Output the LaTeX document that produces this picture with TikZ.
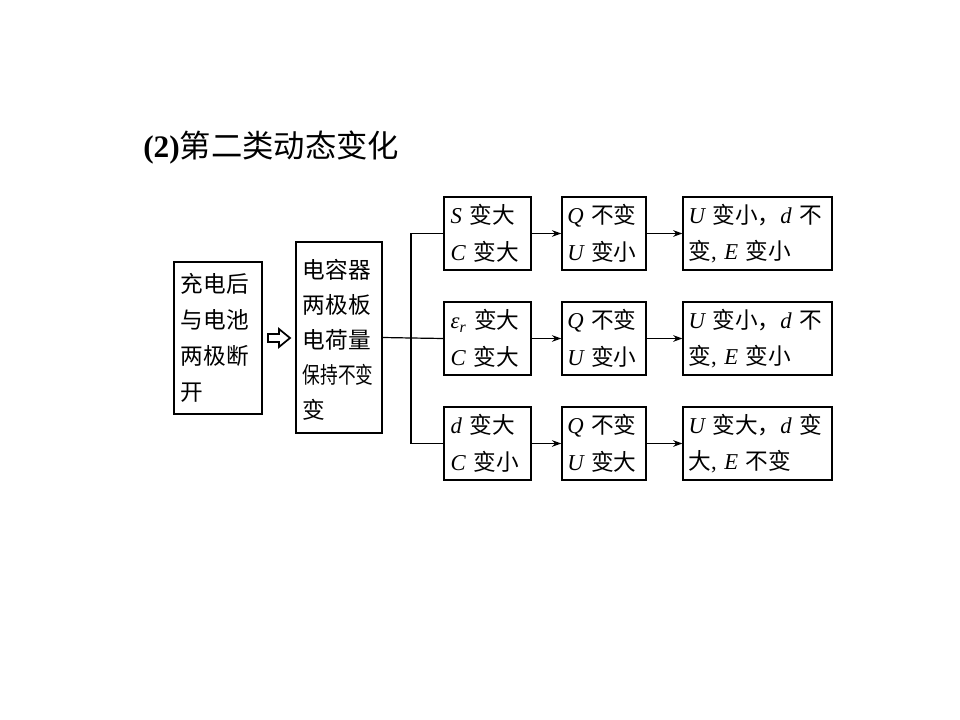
\documentclass[tikz,border=0pt]{standalone}
\usepackage{fontspec}
\setmainfont{Noto Sans CJK SC}
\newfontfamily\lat{Liberation Serif}
\newcommand\vi[1]{{\lat\itshape #1}}
\usetikzlibrary{arrows.meta}
\begin{document}
\begin{tikzpicture}[x=0.75pt,y=-0.75pt,
  box/.style={draw,line width=1.1pt,inner xsep=4pt,inner ysep=0pt,align=left,
    font=\fontsize{17}{27.5}\selectfont},
  conn/.style={line width=0.9pt},
  arr/.style={conn,-{Stealth[length=7pt,width=5pt]}}]
\useasboundingbox[fill=white] (0,0) rectangle (960,720);
\node[anchor=west,inner sep=0pt,font=\fontsize{23.5}{26}\selectfont] (title) at (143,148)
  {{\lat\bfseries (2)}第二类动态变化};
\node[box,inner xsep=5pt,text width=56pt,minimum height=114pt,font=\fontsize{17}{27}\selectfont] (A) at (218,338)
  {充电后\\与电池\\两极断\\开};
\node[box,minimum width=64.5pt,minimum height=143pt] (B) at (339,337.5) {};
\node[inner xsep=5pt,inner ysep=0pt,text width=54.5pt,align=left,font=\fontsize{17}{26.3}\selectfont] (Btext) at (339,340)
  {电容器\\两极板\\电荷量\\\scalebox{0.78}[1]{保持不变}\\变};
% row 1
\node[box,inner xsep=5pt,text width=55.25pt,minimum height=54.75pt] (r1a) at (487.5,233.5)
  {\vi{S} 变大\\\vi{C} 变大};
\node[box,text width=55pt,minimum height=54.75pt] (r1b) at (604,233.5)
  {\vi{Q} 不变\\\vi{U} 变小};
\node[box,text width=103.5pt,minimum height=54.75pt] (r1c) at (757.5,233.5)
  {\vi{U} 变小，\vi{d} 不\\变{\lat ,} \vi{E} 变小};
% row 2
\node[box,inner xsep=5pt,text width=55.25pt,minimum height=54.75pt] (r2a) at (487.5,338.5)
  {{\lat\itshape ε\textsubscript{r}} 变大\\\vi{C} 变大};
\node[box,text width=55pt,minimum height=54.75pt] (r2b) at (604,338.5)
  {\vi{Q} 不变\\\vi{U} 变小};
\node[box,text width=103.5pt,minimum height=54.75pt] (r2c) at (757.5,338.5)
  {\vi{U} 变小，\vi{d} 不\\变{\lat ,} \vi{E} 变小};
% row 3
\node[box,inner xsep=5pt,text width=55.25pt,minimum height=54.75pt] (r3a) at (487.5,443.5)
  {\vi{d} 变大\\\vi{C} 变小};
\node[box,text width=55pt,minimum height=54.75pt] (r3b) at (604,443.5)
  {\vi{Q} 不变\\\vi{U} 变大};
\node[box,text width=103.5pt,minimum height=54.75pt] (r3c) at (757.5,443.5)
  {\vi{U} 变大，\vi{d} 变\\大{\lat ,} \vi{E} 不变};
% hollow arrow between A and B
\draw[line width=1.3pt,line join=miter]
  (268,334) -- (279,334) -- (279,329) -- (290,338) -- (279,347) -- (279,342) -- (268,342) -- cycle;
% connectors
\coordinate (J) at (411,338);
\draw[conn] (B.east) -- (J);
\draw[conn] (r1a.west) -| (J);
\draw[conn] (r3a.west) -| (J);
\draw[conn] (J) -- (r2a.west);
\draw[arr] (r1a) -- (r1b);
\draw[arr] (r1b) -- (r1c);
\draw[arr] (r2a) -- (r2b);
\draw[arr] (r2b) -- (r2c);
\draw[arr] (r3a) -- (r3b);
\draw[arr] (r3b) -- (r3c);
\end{tikzpicture}
\end{document}
